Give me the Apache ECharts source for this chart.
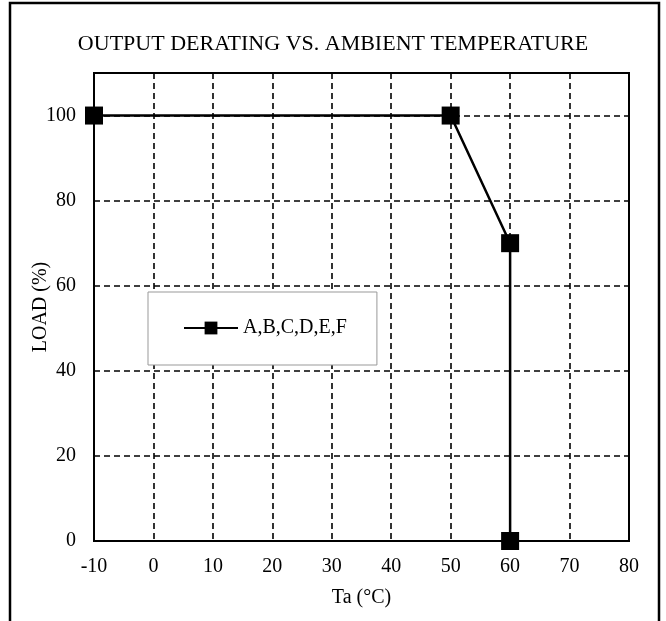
<!DOCTYPE html>
<html>
<head>
<meta charset="utf-8">
<script src="https://cdn.jsdelivr.net/npm/echarts@6/dist/echarts.min.js"></script>
<style>html,body{margin:0;padding:0;background:#fff}#c{width:666px;height:621px}</style>
</head>
<body>
<div id="c"></div>
<script>
const titleText = 'OUTPUT DERATING VS. AMBIENT TEMPERATURE';
const seriesName = 'A,B,C,D,E,F';
const tempValues = [-10, 50, 60, 60];
const loadValues = [100, 100, 70, 0];
const xAxisName = 'Ta (°C)';
const yAxisName = 'LOAD (%)';

const font = 'Liberation Serif';
const chart = echarts.init(document.getElementById('c'), null, {renderer: 'canvas'});
chart.setOption({
  animation: false,
  backgroundColor: '#fff',
  textStyle: {fontFamily: font},
  title: {
    text: titleText, left: 'center', top: 28,
    textStyle: {fontFamily: font, fontWeight: 'normal', fontSize: 22, color: '#000'}
  },
  graphic: [{
    type: 'rect', shape: {x: 10, y: 3, width: 649, height: 640},
    style: {fill: 'none', stroke: '#000', lineWidth: 2.5}, z: 100
  }],
  legend: {
    left: 148, top: 292, orient: 'horizontal',
    padding: [26, 30, 27, 35],
    borderColor: '#999', borderWidth: 1, backgroundColor: '#fff',
    itemWidth: 54, itemHeight: 16, itemGap: 5,
    textStyle: {fontFamily: font, fontSize: 20, color: '#000'},
    data: [seriesName]
  },
  grid: {
    left: 94, right: 37, top: 73, bottom: 80,
    show: true, borderColor: '#000', borderWidth: 2
  },
  xAxis: {
    type: 'value', min: -10, max: 80, interval: 10,
    name: xAxisName, nameLocation: 'middle', nameGap: 47,
    nameTextStyle: {fontFamily: font, fontSize: 20, color: '#000'},
    axisLine: {onZero: false, lineStyle: {color: '#000', width: 2}},
    axisTick: {show: false},
    axisLabel: {margin: 16, fontFamily: font, fontSize: 20, color: '#000'},
    splitLine: {show: true, lineStyle: {color: '#000', width: 1.6, type: [6, 4]}}
  },
  yAxis: {
    type: 'value', min: 0, max: 110, interval: 20,
    name: yAxisName, nameLocation: 'middle', nameGap: 43, nameMoveOverlap: false,
    nameTextStyle: {fontFamily: font, fontSize: 20, color: '#000'},
    axisLine: {show: true, onZero: false, lineStyle: {color: '#000', width: 2}},
    axisTick: {show: false},
    axisLabel: {margin: 18, fontFamily: font, fontSize: 20, color: '#000', showMaxLabel: false,
      formatter: v => (v % 20 === 0 ? v : '')},
    splitLine: {show: true, lineStyle: {color: '#000', width: 1.6, type: [6, 4]}}
  },
  series: [{
    name: seriesName, type: 'line',
    data: tempValues.map((t, i) => [t, loadValues[i]]),
    symbol: 'rect', symbolSize: 18,
    lineStyle: {color: '#000', width: 2.5},
    itemStyle: {color: '#000'},
    z: 5
  }]
});
</script>
</body>
</html>
